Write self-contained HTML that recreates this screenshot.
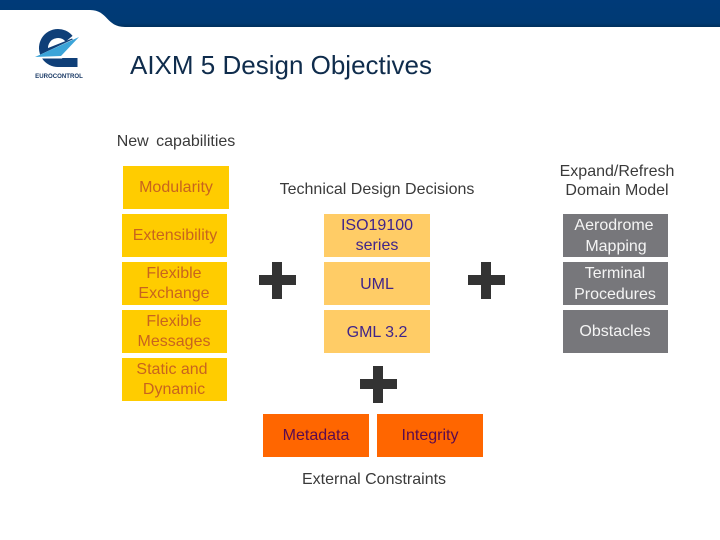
<!DOCTYPE html>
<html>
<head>
<meta charset="utf-8">
<style>
html,body{margin:0;padding:0;background:#fff}
#s{position:relative;width:720px;height:540px;overflow:hidden;background:#fff;font-family:"Liberation Sans",sans-serif}
.b{position:absolute;height:43px}
.y{background:#ffcc00}
.l{background:#ffcc66}
.o{background:#ff6600}
.g{background:#77777b}
.t{position:absolute;font-size:16px;line-height:20px;white-space:nowrap;transform:translateX(-50%)}
.cy{color:#c8641e}
.cl{color:#40248a}
.co{color:#5a0a50}
.cg{color:#f4f4f4}
.ck{color:#3a3a3a}
svg{position:absolute;left:0;top:0}
</style>
</head>
<body>
<div id="s">
<svg width="720" height="540" viewBox="0 0 720 540">
<defs>
<linearGradient id="h" x1="0" y1="0" x2="0" y2="1">
<stop offset="0" stop-color="#003a78"/>
<stop offset="0.85" stop-color="#003a74"/>
<stop offset="1" stop-color="#00305c"/>
</linearGradient>
</defs>
<path d="M0 0H720V27H125C106 27 108 10 90 10H0Z" fill="url(#h)"/>
<path d="M69.1 38.7A14.5 14.5 0 1 0 58 62.5L77.5 62.5" fill="none" stroke="#0f3f78" stroke-width="9"/>
<path d="M43 50L72 38.5L75 41L47 53Z" fill="#0f3f78"/>
<path d="M32 58.5L80 36L62 58.5Z" fill="#fff"/>
<path d="M35 57L79 37L61 56Z" fill="#3ba4d8"/>
<rect x="123" y="166" width="106" height="43" fill="#ffcc00"/>
<path d="M272 262h10v13h14v10h-14v14h-10v-14h-13v-10h13z" fill="#333"/>
<path d="M481 262h10v13h14v10h-14v14h-10v-14h-13v-10h13z" fill="#333"/>
<path d="M373 366h10v13h14v10h-14v14h-10v-14h-13v-10h13z" fill="#333"/>
</svg>

<div class="t" style="left:59px;top:72px;font-size:6.1px;line-height:10px;font-weight:bold;color:#1a3a66">EUROCONTROL</div>
<div class="t" style="left:281px;top:49px;font-size:26px;line-height:32px;color:#0f2c4c">AIXM 5 Design Objectives</div>
<div class="t" style="left:176px;top:132px;font-size:16px;color:#3a3a3a;word-spacing:3px">New capabilities</div>

<div class="b y" style="left:122px;top:214px;width:105px"></div>
<div class="b y" style="left:122px;top:262px;width:105px"></div>
<div class="b y" style="left:122px;top:310px;width:105px"></div>
<div class="b y" style="left:122px;top:358px;width:105px"></div>

<div class="t cy" style="left:176px;top:178px">Modularity</div>
<div class="t cy" style="left:175px;top:226px">Extensibility</div>
<div class="t cy" style="left:174px;top:264px">Flexible</div>
<div class="t cy" style="left:174px;top:284px">Exchange</div>
<div class="t cy" style="left:174px;top:312px">Flexible</div>
<div class="t cy" style="left:174px;top:332px">Messages</div>
<div class="t cy" style="left:172px;top:360px">Static and</div>
<div class="t cy" style="left:174px;top:380px">Dynamic</div>

<div class="t ck" style="left:377px;top:180px">Technical Design Decisions</div>

<div class="b l" style="left:324px;top:214px;width:106px"></div>
<div class="b l" style="left:324px;top:262px;width:106px"></div>
<div class="b l" style="left:324px;top:310px;width:106px"></div>
<div class="t cl" style="left:377px;top:216px">ISO19100</div>
<div class="t cl" style="left:377px;top:236px">series</div>
<div class="t cl" style="left:377px;top:275px">UML</div>
<div class="t cl" style="left:377px;top:323px">GML 3.2</div>

<div class="t ck" style="left:617px;top:162px">Expand/Refresh</div>
<div class="t ck" style="left:617px;top:181px">Domain Model</div>

<div class="b g" style="left:563px;top:214px;width:105px"></div>
<div class="b g" style="left:563px;top:262px;width:105px"></div>
<div class="b g" style="left:563px;top:310px;width:105px"></div>
<div class="t cg" style="left:614px;top:216px">Aerodrome</div>
<div class="t cg" style="left:616px;top:237px">Mapping</div>
<div class="t cg" style="left:615px;top:264px">Terminal</div>
<div class="t cg" style="left:615px;top:285px">Procedures</div>
<div class="t cg" style="left:615px;top:322px">Obstacles</div>

<div class="b o" style="left:263px;top:414px;width:106px"></div>
<div class="b o" style="left:377px;top:414px;width:106px"></div>
<div class="t co" style="left:316px;top:426px">Metadata</div>
<div class="t co" style="left:430px;top:426px">Integrity</div>

<div class="t ck" style="left:374px;top:470px">External Constraints</div>
</div>
</body>
</html>
